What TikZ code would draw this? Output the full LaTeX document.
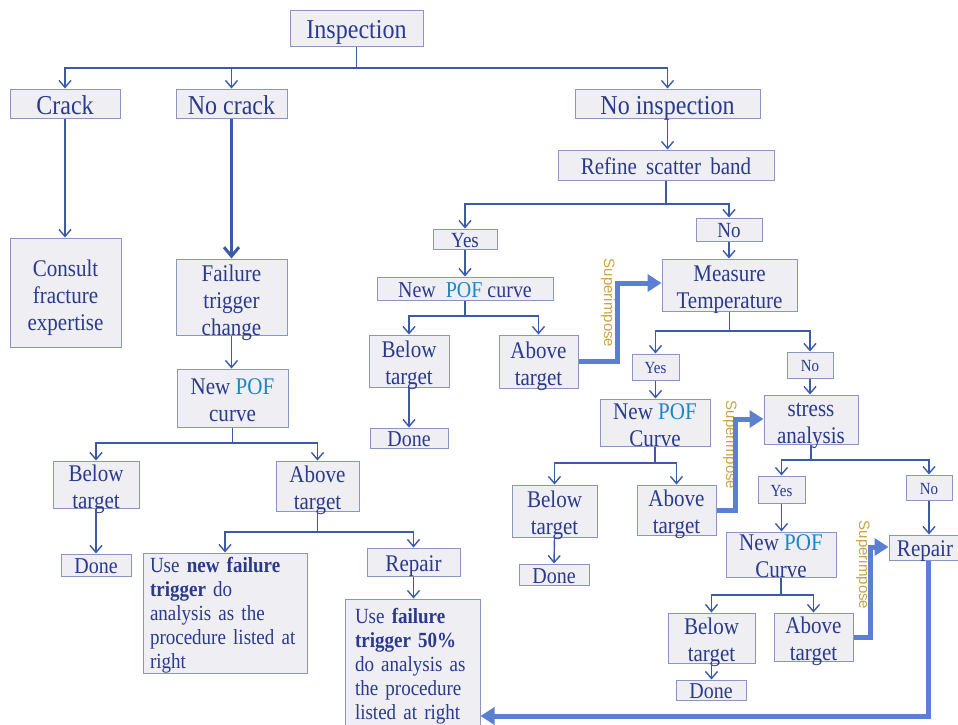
\documentclass[tikz,border=0pt]{standalone}
\usepackage{fontspec}
\setmainfont{Liberation Serif}[FakeStretch=0.88]
\newfontfamily\suplabelfont{Liberation Sans}
\usetikzlibrary{arrows.meta}
\definecolor{txt}{HTML}{2B3A8C}
\definecolor{pofc}{HTML}{1F86C1}
\definecolor{boxc}{HTML}{8A95C0}
\definecolor{boxf}{HTML}{EEEEF3}
\definecolor{connc}{HTML}{3B5BA9}
\definecolor{supc}{HTML}{5B80D3}
\definecolor{goldc}{HTML}{C9A447}
\newcommand\pofword{\textcolor{pofc}{POF}}
\tikzset{
  bx/.style={draw=boxc, fill=boxf, line width=1pt, text=txt, inner sep=0pt, align=center},
  fb/.style={font=\fontsize{27.3}{31}\selectfont, text height=22pt, text depth=1pt},
  fa/.style={font=\fontsize{23.9}{27}\selectfont},
  fa1/.style={fa, text height=19.5pt, text depth=0.7pt},
  l2/.style={fa, text height=47pt, text depth=0pt},
  l3/.style={fa, text height=76pt, text depth=0pt},
  fm/.style={font=\fontsize{22.7}{26}\selectfont, text height=18pt, text depth=1pt},
  fy/.style={font=\fontsize{21.6}{24}\selectfont, text height=17pt, text depth=0.8pt},
  fs/.style={font=\fontsize{17}{20}\selectfont, text height=14pt, text depth=0.8pt},
  ft/.style={font=\fontsize{21.6}{24}\selectfont, align=left, inner xsep=7pt, text height=17pt, text depth=99pt},
  conn/.style={draw=connc, line width=1.4pt, -{Straight Barb[length=7pt,width=12pt,line width=1.4pt]}},
  plain/.style={draw=connc, line width=1.4pt},
  thickconn/.style={draw=connc, line width=3pt, -{Straight Barb[length=9pt,width=15pt,line width=3pt]}},
  sup/.style={draw=supc, line width=5pt, -{Triangle[length=14pt,width=17pt]}},
  suplab/.style={text=goldc, font=\suplabelfont\fontsize{15}{15}\selectfont, rotate=-90, inner sep=0pt},
}
\begin{document}
\begin{tikzpicture}[x=1pt,y=-1pt]
\useasboundingbox (0,0) rectangle (958,724);
% nodes
\node[bx,fb,minimum width=133pt,minimum height=36pt] (insp) at (356.5,28) {Inspection};
\node[bx,fb,minimum width=110pt,minimum height=29pt] (crack) at (65,103.5) {Crack};
\node[bx,fb,minimum width=111pt,minimum height=29pt] (nocrack) at (231.5,103.5) {No crack};
\node[bx,fb,minimum width=185pt,minimum height=29pt] (noinsp) at (667.5,103.5) {No inspection};
\node[bx,fa1,minimum width=216pt,minimum height=30pt] (refine) at (666,165) {Refine\,\ scatter\,\ band};
\node[bx,fy,minimum width=64pt,minimum height=20pt] (yes1) at (465,239) {Yes};
\node[bx,fy,minimum width=66pt,minimum height=23pt] (no1) at (729,229.5) {No};
\node[bx,fm,minimum width=176pt,minimum height=23pt] (pof1) at (465,288.5) {New\ \ \pofword{} curve};
\node[bx,l2,minimum width=80pt,minimum height=52pt] (below1) at (409,361) {Below\\target};
\node[bx,l2,minimum width=79pt,minimum height=53pt] (above1) at (538.5,361.5) {Above\\target};
\node[bx,fm,minimum width=78pt,minimum height=20pt] (done1) at (409,438) {Done};
\node[bx,l2,minimum width=135pt,minimum height=52pt] (meas) at (729.5,285) {Measure\\Temperature};
\node[bx,fs,minimum width=47pt,minimum height=26pt] (yes2) at (655.5,367) {Yes};
\node[bx,fs,minimum width=46pt,minimum height=26pt] (no2) at (810,365) {No};
\node[bx,l2,minimum width=110pt,minimum height=47pt] (pof2) at (655,422.5) {New \pofword\\Curve};
\node[bx,l2,minimum width=94pt,minimum height=49pt] (stress) at (811,419.5) {stress\\analysis};
\node[bx,l2,minimum width=85pt,minimum height=52pt] (below2) at (554.5,511) {Below\\target};
\node[bx,l2,minimum width=79pt,minimum height=50pt] (above2) at (676.5,510) {Above\\target};
\node[bx,fm,minimum width=70pt,minimum height=21pt] (done2) at (554,574.5) {Done};
\node[bx,fs,minimum width=47pt,minimum height=27pt] (yes3) at (781.5,489.5) {Yes};
\node[bx,fs,minimum width=46pt,minimum height=25pt] (no3) at (929,487.5) {No};
\node[bx,l2,text height=45pt,minimum width=110pt,minimum height=45pt] (pof3) at (781,554.5) {New \pofword\\Curve};
\node[bx,fa1,minimum width=72pt,minimum height=25pt] (repair2) at (925,547.5) {Repair};
\node[bx,l2,minimum width=87pt,minimum height=50pt] (below3) at (711.5,638) {Below\\target};
\node[bx,l2,minimum width=79pt,minimum height=48pt] (above3) at (813.5,637) {Above\\target};
\node[bx,fm,minimum width=70pt,minimum height=20pt] (done3) at (711,690) {Done};
\node[bx,l3,minimum width=111pt,minimum height=109pt] (consult) at (65.5,292.5) {Consult\\fracture\\expertise};
\node[bx,l3,minimum width=111pt,minimum height=76pt] (failure) at (231.5,297) {Failure\\trigger\\change};
\node[bx,l2,minimum width=111pt,minimum height=58pt] (pofL) at (232.5,398) {New \pofword\\curve};
\node[bx,l2,minimum width=86pt,minimum height=47pt] (belowL) at (96,484.5) {Below\\target};
\node[bx,l2,minimum width=83pt,minimum height=50pt] (aboveL) at (317.5,486) {Above\\target};
\node[bx,fm,minimum width=70pt,minimum height=22pt] (doneL) at (96,565) {Done};
\node[bx,ft,text width=150pt,minimum height=120pt] (useL) at (225,613) {Use \textbf{new failure}\\\textbf{trigger} do\\analysis as the\\procedure listed at\\right};
\node[bx,fa1,minimum width=93pt,minimum height=28pt] (repairL) at (413.5,562) {Repair};
\node[bx,ft,inner xsep=10pt,text width=115pt,minimum height=130pt] (useR) at (412.5,664) {Use \textbf{failure}\\\textbf{trigger 50\%}\\do analysis as\\the procedure\\listed at right};
% superimpose labels
\node[suplab] (sl1) at (608,303) {Superimpose};
\node[suplab] (sl2) at (730,445) {Superimpose};
\node[suplab] (sl3) at (863,565) {Superimpose};
% junctions
\coordinate (j0) at (356.5,68);
\coordinate (jL1) at (232.5,443);
\coordinate (jL2) at (317.5,532);
\coordinate (jR1) at (666,204);
\coordinate (jR2) at (465,316);
\coordinate (jR3) at (729.5,331);
\coordinate (jR4) at (655,463);
\coordinate (jR5) at (811,460);
\coordinate (jR6) at (781,595);
\coordinate (s1) at (617,283);
\coordinate (s2) at (735,419);
\coordinate (s3) at (870,547);
\coordinate (r1) at (928,716);
% connectors top
\draw[plain] (insp.south) -- (j0);
\draw[conn] (j0) -| (crack.north);
\draw[conn] (j0) -| (nocrack.north);
\draw[conn] (j0) -| (noinsp.north);
% left column
\draw[conn] (crack.south) -- (crack.south |- consult.north);
\draw[thickconn] (nocrack.south) -- (nocrack.south |- failure.north);
\draw[conn] (failure.south) -- (failure.south |- pofL.north);
\draw[plain] (pofL.south) -- (jL1);
\draw[conn] (jL1) -| (belowL.north);
\draw[conn] (jL1) -| (aboveL.north);
\draw[conn] (belowL.south) -- (doneL.north);
\draw[plain] (aboveL.south) -- (jL2);
\draw[conn] (jL2) -| (useL.north);
\draw[conn] (jL2) -| (repairL.north);
\draw[conn] (repairL.south) -- (repairL.south |- useR.north);
% right part
\draw[conn] (noinsp.south) -- (noinsp.south |- refine.north);
\draw[plain] (refine.south) -- (jR1);
\draw[conn] (jR1) -| (yes1.north);
\draw[conn] (jR1) -| (no1.north);
\draw[conn] (yes1.south) -- (pof1.north);
\draw[plain] (pof1.south) -- (jR2);
\draw[conn] (jR2) -| (below1.north);
\draw[conn] (jR2) -| (above1.north);
\draw[conn] (below1.south) -- (done1.north);
\draw[conn] (no1.south) -- (no1.south |- meas.north);
\draw[plain] (meas.south) -- (jR3);
\draw[conn] (jR3) -| (yes2.north);
\draw[conn] (jR3) -| (no2.north);
\draw[conn] (yes2.south) -- (yes2.south |- pof2.north);
\draw[conn] (no2.south) -- (no2.south |- stress.north);
\draw[plain] (pof2.south) -- (jR4);
\draw[conn] (jR4) -| (below2.north);
\draw[conn] (jR4) -| (above2.north);
\draw[conn] (below2.south) -- (done2.north);
\draw[plain] (stress.south) -- (jR5);
\draw[conn] (jR5) -| (yes3.north);
\draw[conn] (jR5) -| (no3.north);
\draw[conn] (yes3.south) -- (yes3.south |- pof3.north);
\draw[conn] (no3.south) -- (no3.south |- repair2.north);
\draw[plain] (pof3.south) -- (jR6);
\draw[conn] (jR6) -| (below3.north);
\draw[conn] (jR6) -| (above3.north);
\draw[conn] (below3.south) -- (below3.south |- done3.north);
% superimpose arrows
\draw[sup] (above1.east) -| (s1) -- (s1 -| meas.west);
\draw[sup] (above2.east) -| (s2) -- (s2 -| stress.west);
\draw[sup] (above3.east) -| (s3) -- (s3 -| repair2.west);
\draw[sup] (r1 |- repair2.south) -- (r1) -- (r1 -| useR.east);
\end{tikzpicture}
\end{document}
